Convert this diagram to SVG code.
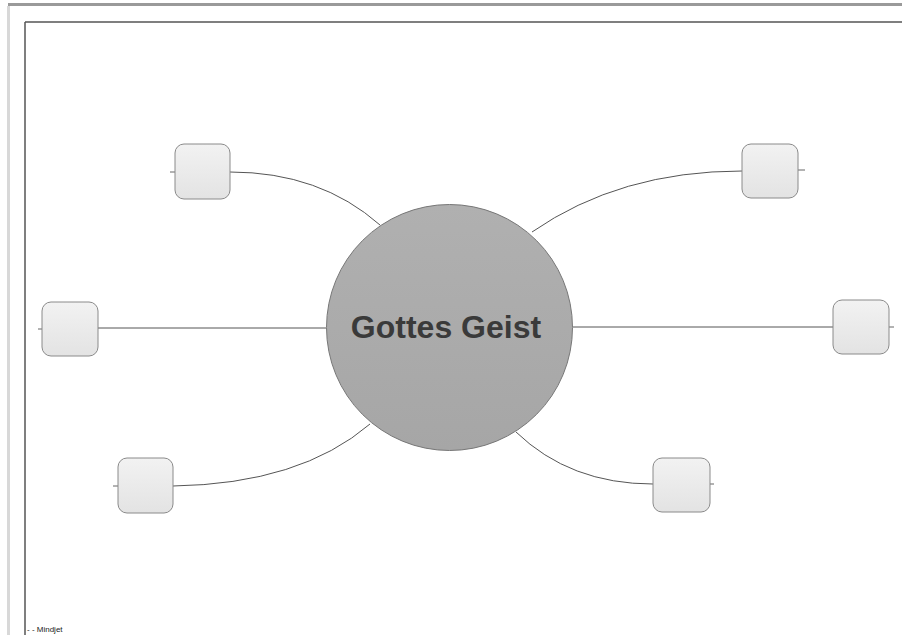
<svg xmlns="http://www.w3.org/2000/svg" width="902" height="635" viewBox="0 0 902 635">
<defs>
<linearGradient id="nodeFill" x1="0" y1="0" x2="0" y2="1">
<stop offset="0" stop-color="#f2f2f2"/>
<stop offset="1" stop-color="#e3e3e3"/>
</linearGradient>
<linearGradient id="centerFill" x1="0" y1="0" x2="0" y2="1">
<stop offset="0" stop-color="#b0b0b0"/>
<stop offset="1" stop-color="#a6a6a6"/>
</linearGradient>
</defs>
<style>
.node{fill:url(#nodeFill);stroke:#8a8a8a;stroke-width:1}
.stub{stroke:#666;stroke-width:1;fill:none}
.conn path,.conn line{stroke:#555;stroke-width:1;fill:none}
.title{font-family:"Liberation Sans",Arial,sans-serif;font-weight:bold;font-size:32px;fill:#3a3a3a}
.foot{font-family:"Liberation Sans",Arial,sans-serif;font-size:8px;fill:#222}
</style>
<rect width="902" height="635" fill="#ffffff"/>
<g id="frame">
<rect x="8" y="3" width="894" height="3" fill="#9a9a9a"/>
<rect x="7" y="6" width="3" height="629" fill="#d8d8d8"/>
<line x1="25" y1="22" x2="902" y2="22" stroke="#555" stroke-width="1.5"/>
<line x1="25" y1="22" x2="25" y2="635" stroke="#555" stroke-width="1.5"/>
</g>
<g class="conn" id="connectors">
<path d="M230,172 Q320,172 380,225"/>
<line x1="98" y1="328" x2="326" y2="328"/>
<path d="M173,486 Q300,484 370,424"/>
<path d="M742,171 Q620,171 532,232"/>
<line x1="573" y1="327" x2="833" y2="327"/>
<path d="M653,484 Q570,484 516,432"/>
</g>
<g id="center">
<circle cx="449.5" cy="327.5" r="123" fill="url(#centerFill)" stroke="#777" stroke-width="1"/>
<text class="title" x="446" y="338" text-anchor="middle">Gottes Geist</text>
</g>
<g id="node-top-left">
<line class="stub" x1="170" y1="172" x2="175" y2="172"/>
<rect class="node" x="175" y="144" width="55" height="55" rx="9"/>
</g>
<g id="node-mid-left">
<line class="stub" x1="38" y1="329" x2="42" y2="329"/>
<rect class="node" x="42" y="302" width="56" height="54" rx="9"/>
</g>
<g id="node-bottom-left">
<line class="stub" x1="113" y1="486" x2="118" y2="486"/>
<rect class="node" x="118" y="458" width="55" height="55" rx="9"/>
</g>
<g id="node-top-right">
<line class="stub" x1="798" y1="170" x2="805" y2="170"/>
<rect class="node" x="742" y="144" width="56" height="54" rx="9"/>
</g>
<g id="node-mid-right">
<line class="stub" x1="889" y1="327" x2="894" y2="327"/>
<rect class="node" x="833" y="300" width="56" height="54" rx="9"/>
</g>
<g id="node-bottom-right">
<line class="stub" x1="710" y1="484" x2="714" y2="484"/>
<rect class="node" x="653" y="458" width="57" height="54" rx="9"/>
</g>
<text class="foot" x="27" y="632">- - Mindjet</text>
</svg>
